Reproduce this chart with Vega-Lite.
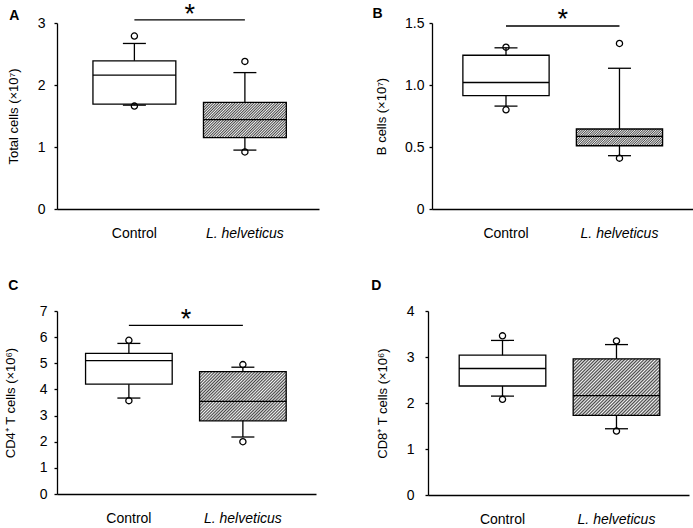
{
  "$schema": "https://vega.github.io/schema/vega-lite/v6.json",
  "background": "white",
  "padding": {"left": 4, "top": 0, "right": 2, "bottom": 0},
  "config": {
    "font": "Liberation Sans",
    "view": {"stroke": null},
    "tick": {"opacity": 1},
    "axis": {"domainColor": "#000", "domainWidth": 1.3, "tickColor": "#000", "tickWidth": 1.3, "labelColor": "#000", "titleColor": "#000", "labelFont": "Liberation Sans", "titleFont": "Liberation Sans", "labelFontSize": 14, "titleFontSize": 13, "titleFontWeight": "normal", "grid": false},
    "axisX": {"ticks": false, "labelPadding": 17, "labelAngle": 0, "labelFontStyle": {"condition": {"test": "datum.value === 'L. helveticus'", "value": "italic"}, "value": "normal"}},
    "axisY": {"tickSize": 3, "labelPadding": 7, "titlePadding": 14},
    "title": {"font": "Liberation Sans", "fontSize": 14, "fontWeight": "bold", "anchor": "start", "color": "#000"}
  },
  "datasets": {
    "A": [
      {"group": "Control", "q1": 1.69, "q3": 2.39, "median": 2.16, "lower": 1.675, "upper": 2.67},
      {"group": "L. helveticus", "q1": 1.15, "q3": 1.72, "median": 1.44, "lower": 0.95, "upper": 2.2}
    ],
    "A_out": [
      {"group": "Control", "value": 2.79}, {"group": "Control", "value": 1.66},
      {"group": "L. helveticus", "value": 2.38}, {"group": "L. helveticus", "value": 0.92}
    ],
    "A_sig": [{"from": "Control", "to": "L. helveticus", "y": 3.05, "ty": 3.133, "label": "*"}],
    "B": [
      {"group": "Control", "q1": 0.915, "q3": 1.24, "median": 1.02, "lower": 0.83, "upper": 1.3},
      {"group": "L. helveticus", "q1": 0.51, "q3": 0.645, "median": 0.585, "lower": 0.43, "upper": 1.135}
    ],
    "B_out": [
      {"group": "Control", "value": 1.305}, {"group": "Control", "value": 0.8},
      {"group": "L. helveticus", "value": 1.335}, {"group": "L. helveticus", "value": 0.41}
    ],
    "B_sig": [{"from": "Control", "to": "L. helveticus", "y": 1.476, "ty": 1.526, "label": "*"}],
    "C": [
      {"group": "Control", "q1": 4.2, "q3": 5.38, "median": 5.1, "lower": 3.67, "upper": 5.76},
      {"group": "L. helveticus", "q1": 2.8, "q3": 4.68, "median": 3.54, "lower": 2.18, "upper": 4.85}
    ],
    "C_out": [
      {"group": "Control", "value": 5.88}, {"group": "Control", "value": 3.57},
      {"group": "L. helveticus", "value": 4.95}, {"group": "L. helveticus", "value": 2.0}
    ],
    "C_sig": [{"from": "Control", "to": "L. helveticus", "y": 6.45, "ty": 6.665, "label": "*"}],
    "D": [
      {"group": "Control", "q1": 2.37, "q3": 3.04, "median": 2.75, "lower": 2.15, "upper": 3.36},
      {"group": "L. helveticus", "q1": 1.73, "q3": 2.96, "median": 2.16, "lower": 1.44, "upper": 3.27}
    ],
    "D_out": [
      {"group": "Control", "value": 3.46}, {"group": "Control", "value": 2.08},
      {"group": "L. helveticus", "value": 3.35}, {"group": "L. helveticus", "value": 1.39}
    ]
  },
  "spacing": 39,
  "vconcat": [
    {
      "spacing": 53,
      "hconcat": [
        {
          "width": 262, "height": 186,
          "title": {"text": "A", "dx": 2, "offset": -22},
          "layer": [
            {"data": {"name": "A"}, "mark": {"type": "rule", "color": "#000", "strokeWidth": 1.3},
             "encoding": {
               "x": {"field": "group", "type": "nominal", "title": null, "scale": {"type": "band", "domain": ["Control", "L. helveticus"], "paddingInner": 0, "paddingOuter": 0.1855, "align": 0.54}},
               "y": {"field": "lower", "type": "quantitative", "scale": {"domain": [0, 3], "nice": false}, "axis": {"title": "Total cells (×10⁷)", "values": [0, 1, 2, 3], "tickCount": 4, "format": "d", "labelPadding": 9, "titlePadding": 17}},
               "y2": {"field": "upper"}}},
            {"data": {"name": "A"}, "transform": [{"filter": "datum.group === 'Control'"}], "mark": {"type": "bar", "width": {"band": 0.75}, "fill": "#fff", "stroke": "#000", "strokeWidth": 1.3},
             "encoding": {"x": {"field": "group", "type": "nominal"}, "y": {"field": "q1", "type": "quantitative"}, "y2": {"field": "q3"}}},
            {"data": {"name": "A"}, "transform": [{"filter": "datum.group === 'L. helveticus'"}], "mark": {"type": "bar", "width": {"band": 0.75}, "stroke": "#000", "strokeWidth": 1.3,
              "fill": {"gradient": "linear", "x1": 0, "y1": 0, "x2": 1.207, "y2": 0.5133, "stops": [
{"offset":0,"color":"#444"},{"offset":0.0114,"color":"#f4f4f4"},{"offset":0.0227,"color":"#444"},{"offset":0.0341,"color":"#f4f4f4"},{"offset":0.0455,"color":"#444"},{"offset":0.0568,"color":"#f4f4f4"},{"offset":0.0682,"color":"#444"},{"offset":0.0795,"color":"#f4f4f4"},{"offset":0.0909,"color":"#444"},{"offset":0.1023,"color":"#f4f4f4"},{"offset":0.1136,"color":"#444"},{"offset":0.125,"color":"#f4f4f4"},{"offset":0.1364,"color":"#444"},{"offset":0.1477,"color":"#f4f4f4"},{"offset":0.1591,"color":"#444"},{"offset":0.1705,"color":"#f4f4f4"},{"offset":0.1818,"color":"#444"},{"offset":0.1932,"color":"#f4f4f4"},{"offset":0.2045,"color":"#444"},{"offset":0.2159,"color":"#f4f4f4"},{"offset":0.2273,"color":"#444"},{"offset":0.2386,"color":"#f4f4f4"},{"offset":0.25,"color":"#444"},{"offset":0.2614,"color":"#f4f4f4"},{"offset":0.2727,"color":"#444"},{"offset":0.2841,"color":"#f4f4f4"},{"offset":0.2955,"color":"#444"},{"offset":0.3068,"color":"#f4f4f4"},{"offset":0.3182,"color":"#444"},{"offset":0.3295,"color":"#f4f4f4"},{"offset":0.3409,"color":"#444"},{"offset":0.3523,"color":"#f4f4f4"},{"offset":0.3636,"color":"#444"},{"offset":0.375,"color":"#f4f4f4"},{"offset":0.3864,"color":"#444"},{"offset":0.3977,"color":"#f4f4f4"},{"offset":0.4091,"color":"#444"},{"offset":0.4205,"color":"#f4f4f4"},{"offset":0.4318,"color":"#444"},{"offset":0.4432,"color":"#f4f4f4"},{"offset":0.4545,"color":"#444"},{"offset":0.4659,"color":"#f4f4f4"},{"offset":0.4773,"color":"#444"},{"offset":0.4886,"color":"#f4f4f4"},{"offset":0.5,"color":"#444"},{"offset":0.5114,"color":"#f4f4f4"},{"offset":0.5227,"color":"#444"},{"offset":0.5341,"color":"#f4f4f4"},{"offset":0.5455,"color":"#444"},{"offset":0.5568,"color":"#f4f4f4"},{"offset":0.5682,"color":"#444"},{"offset":0.5795,"color":"#f4f4f4"},{"offset":0.5909,"color":"#444"},{"offset":0.6023,"color":"#f4f4f4"},{"offset":0.6136,"color":"#444"},{"offset":0.625,"color":"#f4f4f4"},{"offset":0.6364,"color":"#444"},{"offset":0.6477,"color":"#f4f4f4"},{"offset":0.6591,"color":"#444"},{"offset":0.6705,"color":"#f4f4f4"},{"offset":0.6818,"color":"#444"},{"offset":0.6932,"color":"#f4f4f4"},{"offset":0.7045,"color":"#444"},{"offset":0.7159,"color":"#f4f4f4"},{"offset":0.7273,"color":"#444"},{"offset":0.7386,"color":"#f4f4f4"},{"offset":0.75,"color":"#444"},{"offset":0.7614,"color":"#f4f4f4"},{"offset":0.7727,"color":"#444"},{"offset":0.7841,"color":"#f4f4f4"},{"offset":0.7955,"color":"#444"},{"offset":0.8068,"color":"#f4f4f4"},{"offset":0.8182,"color":"#444"},{"offset":0.8295,"color":"#f4f4f4"},{"offset":0.8409,"color":"#444"},{"offset":0.8523,"color":"#f4f4f4"},{"offset":0.8636,"color":"#444"},{"offset":0.875,"color":"#f4f4f4"},{"offset":0.8864,"color":"#444"},{"offset":0.8977,"color":"#f4f4f4"},{"offset":0.9091,"color":"#444"},{"offset":0.9205,"color":"#f4f4f4"},{"offset":0.9318,"color":"#444"},{"offset":0.9432,"color":"#f4f4f4"},{"offset":0.9545,"color":"#444"},{"offset":0.9659,"color":"#f4f4f4"},{"offset":0.9773,"color":"#444"},{"offset":0.9886,"color":"#f4f4f4"},{"offset":1,"color":"#444"}]}},
             "encoding": {"x": {"field": "group", "type": "nominal"}, "y": {"field": "q1", "type": "quantitative"}, "y2": {"field": "q3"}}},
            {"data": {"name": "A"}, "mark": {"type": "tick", "color": "#000", "size": 83, "thickness": 1.3, "opacity": 1},
             "encoding": {"x": {"field": "group", "type": "nominal"}, "y": {"field": "median", "type": "quantitative"}}},
            {"data": {"name": "A"}, "mark": {"type": "tick", "color": "#000", "size": 23, "thickness": 1.3, "opacity": 1},
             "encoding": {"x": {"field": "group", "type": "nominal"}, "y": {"field": "upper", "type": "quantitative"}}},
            {"data": {"name": "A"}, "mark": {"type": "tick", "color": "#000", "size": 23, "thickness": 1.3, "opacity": 1},
             "encoding": {"x": {"field": "group", "type": "nominal"}, "y": {"field": "lower", "type": "quantitative"}}},
            {"data": {"name": "A_out"}, "mark": {"type": "point", "shape": "circle", "filled": false, "color": "#000", "strokeWidth": 1.3, "size": 38, "opacity": 1},
             "encoding": {"x": {"field": "group", "type": "nominal"}, "y": {"field": "value", "type": "quantitative"}}},
            {"data": {"name": "A_sig"}, "mark": {"type": "rule", "color": "#000", "strokeWidth": 1.3},
             "encoding": {"x": {"field": "from", "type": "nominal"}, "x2": {"field": "to"}, "y": {"field": "y", "type": "quantitative"}}},
            {"data": {"name": "A_sig"}, "mark": {"type": "text", "fontSize": 27, "color": "#000", "baseline": "middle"},
             "encoding": {"x": {"field": "from", "type": "nominal", "bandPosition": 1}, "y": {"field": "ty", "type": "quantitative"}, "text": {"field": "label"}}}
          ]
        },
        {
          "width": 261, "height": 186,
          "title": {"text": "B", "dx": -3, "offset": -15},
          "layer": [
            {"data": {"name": "B"}, "mark": {"type": "rule", "color": "#000", "strokeWidth": 1.3},
             "encoding": {
               "x": {"field": "group", "type": "nominal", "title": null, "scale": {"type": "band", "domain": ["Control", "L. helveticus"], "paddingInner": 0, "paddingOuter": 0.15, "align": 0.507}},
               "y": {"field": "lower", "type": "quantitative", "scale": {"domain": [0, 1.5], "nice": false}, "axis": {"title": "B cells (×10⁷)", "values": [0, 0.5, 1, 1.5], "tickCount": 4, "labelExpr": "datum.value === 0 ? '0' : format(datum.value, '.1f')", "labelPadding": 5, "titlePadding": 16}},
               "y2": {"field": "upper"}}},
            {"data": {"name": "B"}, "transform": [{"filter": "datum.group === 'Control'"}], "mark": {"type": "bar", "width": {"band": 0.76}, "fill": "#fff", "stroke": "#000", "strokeWidth": 1.3},
             "encoding": {"x": {"field": "group", "type": "nominal"}, "y": {"field": "q1", "type": "quantitative"}, "y2": {"field": "q3"}}},
            {"data": {"name": "B"}, "transform": [{"filter": "datum.group === 'L. helveticus'"}], "mark": {"type": "bar", "width": {"band": 0.76}, "stroke": "#000", "strokeWidth": 1.3,
              "fill": {"gradient": "linear", "x1": 0, "y1": 0, "x2": 1.1504, "y2": 0.2226, "stops": [
{"offset":0,"color":"#444"},{"offset":0.0114,"color":"#f4f4f4"},{"offset":0.0227,"color":"#444"},{"offset":0.0341,"color":"#f4f4f4"},{"offset":0.0455,"color":"#444"},{"offset":0.0568,"color":"#f4f4f4"},{"offset":0.0682,"color":"#444"},{"offset":0.0795,"color":"#f4f4f4"},{"offset":0.0909,"color":"#444"},{"offset":0.1023,"color":"#f4f4f4"},{"offset":0.1136,"color":"#444"},{"offset":0.125,"color":"#f4f4f4"},{"offset":0.1364,"color":"#444"},{"offset":0.1477,"color":"#f4f4f4"},{"offset":0.1591,"color":"#444"},{"offset":0.1705,"color":"#f4f4f4"},{"offset":0.1818,"color":"#444"},{"offset":0.1932,"color":"#f4f4f4"},{"offset":0.2045,"color":"#444"},{"offset":0.2159,"color":"#f4f4f4"},{"offset":0.2273,"color":"#444"},{"offset":0.2386,"color":"#f4f4f4"},{"offset":0.25,"color":"#444"},{"offset":0.2614,"color":"#f4f4f4"},{"offset":0.2727,"color":"#444"},{"offset":0.2841,"color":"#f4f4f4"},{"offset":0.2955,"color":"#444"},{"offset":0.3068,"color":"#f4f4f4"},{"offset":0.3182,"color":"#444"},{"offset":0.3295,"color":"#f4f4f4"},{"offset":0.3409,"color":"#444"},{"offset":0.3523,"color":"#f4f4f4"},{"offset":0.3636,"color":"#444"},{"offset":0.375,"color":"#f4f4f4"},{"offset":0.3864,"color":"#444"},{"offset":0.3977,"color":"#f4f4f4"},{"offset":0.4091,"color":"#444"},{"offset":0.4205,"color":"#f4f4f4"},{"offset":0.4318,"color":"#444"},{"offset":0.4432,"color":"#f4f4f4"},{"offset":0.4545,"color":"#444"},{"offset":0.4659,"color":"#f4f4f4"},{"offset":0.4773,"color":"#444"},{"offset":0.4886,"color":"#f4f4f4"},{"offset":0.5,"color":"#444"},{"offset":0.5114,"color":"#f4f4f4"},{"offset":0.5227,"color":"#444"},{"offset":0.5341,"color":"#f4f4f4"},{"offset":0.5455,"color":"#444"},{"offset":0.5568,"color":"#f4f4f4"},{"offset":0.5682,"color":"#444"},{"offset":0.5795,"color":"#f4f4f4"},{"offset":0.5909,"color":"#444"},{"offset":0.6023,"color":"#f4f4f4"},{"offset":0.6136,"color":"#444"},{"offset":0.625,"color":"#f4f4f4"},{"offset":0.6364,"color":"#444"},{"offset":0.6477,"color":"#f4f4f4"},{"offset":0.6591,"color":"#444"},{"offset":0.6705,"color":"#f4f4f4"},{"offset":0.6818,"color":"#444"},{"offset":0.6932,"color":"#f4f4f4"},{"offset":0.7045,"color":"#444"},{"offset":0.7159,"color":"#f4f4f4"},{"offset":0.7273,"color":"#444"},{"offset":0.7386,"color":"#f4f4f4"},{"offset":0.75,"color":"#444"},{"offset":0.7614,"color":"#f4f4f4"},{"offset":0.7727,"color":"#444"},{"offset":0.7841,"color":"#f4f4f4"},{"offset":0.7955,"color":"#444"},{"offset":0.8068,"color":"#f4f4f4"},{"offset":0.8182,"color":"#444"},{"offset":0.8295,"color":"#f4f4f4"},{"offset":0.8409,"color":"#444"},{"offset":0.8523,"color":"#f4f4f4"},{"offset":0.8636,"color":"#444"},{"offset":0.875,"color":"#f4f4f4"},{"offset":0.8864,"color":"#444"},{"offset":0.8977,"color":"#f4f4f4"},{"offset":0.9091,"color":"#444"},{"offset":0.9205,"color":"#f4f4f4"},{"offset":0.9318,"color":"#444"},{"offset":0.9432,"color":"#f4f4f4"},{"offset":0.9545,"color":"#444"},{"offset":0.9659,"color":"#f4f4f4"},{"offset":0.9773,"color":"#444"},{"offset":0.9886,"color":"#f4f4f4"},{"offset":1,"color":"#444"}]}},
             "encoding": {"x": {"field": "group", "type": "nominal"}, "y": {"field": "q1", "type": "quantitative"}, "y2": {"field": "q3"}}},
            {"data": {"name": "B"}, "mark": {"type": "tick", "color": "#000", "size": 86, "thickness": 1.3, "opacity": 1},
             "encoding": {"x": {"field": "group", "type": "nominal"}, "y": {"field": "median", "type": "quantitative"}}},
            {"data": {"name": "B"}, "mark": {"type": "tick", "color": "#000", "size": 23, "thickness": 1.3, "opacity": 1},
             "encoding": {"x": {"field": "group", "type": "nominal"}, "y": {"field": "upper", "type": "quantitative"}}},
            {"data": {"name": "B"}, "mark": {"type": "tick", "color": "#000", "size": 23, "thickness": 1.3, "opacity": 1},
             "encoding": {"x": {"field": "group", "type": "nominal"}, "y": {"field": "lower", "type": "quantitative"}}},
            {"data": {"name": "B_out"}, "mark": {"type": "point", "shape": "circle", "filled": false, "color": "#000", "strokeWidth": 1.3, "size": 38, "opacity": 1},
             "encoding": {"x": {"field": "group", "type": "nominal"}, "y": {"field": "value", "type": "quantitative"}}},
            {"data": {"name": "B_sig"}, "mark": {"type": "rule", "color": "#000", "strokeWidth": 1.3},
             "encoding": {"x": {"field": "from", "type": "nominal"}, "x2": {"field": "to"}, "y": {"field": "y", "type": "quantitative"}}},
            {"data": {"name": "B_sig"}, "mark": {"type": "text", "fontSize": 27, "color": "#000", "baseline": "middle"},
             "encoding": {"x": {"field": "from", "type": "nominal", "bandPosition": 1}, "y": {"field": "ty", "type": "quantitative"}, "text": {"field": "label"}}}
          ]
        }
      ]
    },
    {
      "spacing": 55,
      "hconcat": [
        {
          "width": 259, "height": 183,
          "title": {"text": "C", "dx": 4, "offset": 11},
          "layer": [
            {"data": {"name": "C"}, "mark": {"type": "rule", "color": "#000", "strokeWidth": 1.3},
             "encoding": {
               "x": {"field": "group", "type": "nominal", "title": null, "scale": {"type": "band", "domain": ["Control", "L. helveticus"], "paddingInner": 0, "paddingOuter": 0.136, "align": 0.48}},
               "y": {"field": "lower", "type": "quantitative", "scale": {"domain": [0, 7], "nice": false}, "axis": {"title": "CD4⁺ T cells (×10⁶)", "values": [0, 1, 2, 3, 4, 5, 6, 7], "tickCount": 8, "format": "d", "labelPadding": 7, "titlePadding": 22}},
               "y2": {"field": "upper"}}},
            {"data": {"name": "C"}, "transform": [{"filter": "datum.group === 'Control'"}], "mark": {"type": "bar", "width": {"band": 0.76}, "fill": "#fff", "stroke": "#000", "strokeWidth": 1.3},
             "encoding": {"x": {"field": "group", "type": "nominal"}, "y": {"field": "q1", "type": "quantitative"}, "y2": {"field": "q3"}}},
            {"data": {"name": "C"}, "transform": [{"filter": "datum.group === 'L. helveticus'"}], "mark": {"type": "bar", "width": {"band": 0.76}, "stroke": "#000", "strokeWidth": 1.3,
              "fill": {"gradient": "linear", "x1": 0, "y1": 0, "x2": 1.1857, "y2": 0.6723, "stops": [
{"offset":0,"color":"#444"},{"offset":0.0114,"color":"#f4f4f4"},{"offset":0.0227,"color":"#444"},{"offset":0.0341,"color":"#f4f4f4"},{"offset":0.0455,"color":"#444"},{"offset":0.0568,"color":"#f4f4f4"},{"offset":0.0682,"color":"#444"},{"offset":0.0795,"color":"#f4f4f4"},{"offset":0.0909,"color":"#444"},{"offset":0.1023,"color":"#f4f4f4"},{"offset":0.1136,"color":"#444"},{"offset":0.125,"color":"#f4f4f4"},{"offset":0.1364,"color":"#444"},{"offset":0.1477,"color":"#f4f4f4"},{"offset":0.1591,"color":"#444"},{"offset":0.1705,"color":"#f4f4f4"},{"offset":0.1818,"color":"#444"},{"offset":0.1932,"color":"#f4f4f4"},{"offset":0.2045,"color":"#444"},{"offset":0.2159,"color":"#f4f4f4"},{"offset":0.2273,"color":"#444"},{"offset":0.2386,"color":"#f4f4f4"},{"offset":0.25,"color":"#444"},{"offset":0.2614,"color":"#f4f4f4"},{"offset":0.2727,"color":"#444"},{"offset":0.2841,"color":"#f4f4f4"},{"offset":0.2955,"color":"#444"},{"offset":0.3068,"color":"#f4f4f4"},{"offset":0.3182,"color":"#444"},{"offset":0.3295,"color":"#f4f4f4"},{"offset":0.3409,"color":"#444"},{"offset":0.3523,"color":"#f4f4f4"},{"offset":0.3636,"color":"#444"},{"offset":0.375,"color":"#f4f4f4"},{"offset":0.3864,"color":"#444"},{"offset":0.3977,"color":"#f4f4f4"},{"offset":0.4091,"color":"#444"},{"offset":0.4205,"color":"#f4f4f4"},{"offset":0.4318,"color":"#444"},{"offset":0.4432,"color":"#f4f4f4"},{"offset":0.4545,"color":"#444"},{"offset":0.4659,"color":"#f4f4f4"},{"offset":0.4773,"color":"#444"},{"offset":0.4886,"color":"#f4f4f4"},{"offset":0.5,"color":"#444"},{"offset":0.5114,"color":"#f4f4f4"},{"offset":0.5227,"color":"#444"},{"offset":0.5341,"color":"#f4f4f4"},{"offset":0.5455,"color":"#444"},{"offset":0.5568,"color":"#f4f4f4"},{"offset":0.5682,"color":"#444"},{"offset":0.5795,"color":"#f4f4f4"},{"offset":0.5909,"color":"#444"},{"offset":0.6023,"color":"#f4f4f4"},{"offset":0.6136,"color":"#444"},{"offset":0.625,"color":"#f4f4f4"},{"offset":0.6364,"color":"#444"},{"offset":0.6477,"color":"#f4f4f4"},{"offset":0.6591,"color":"#444"},{"offset":0.6705,"color":"#f4f4f4"},{"offset":0.6818,"color":"#444"},{"offset":0.6932,"color":"#f4f4f4"},{"offset":0.7045,"color":"#444"},{"offset":0.7159,"color":"#f4f4f4"},{"offset":0.7273,"color":"#444"},{"offset":0.7386,"color":"#f4f4f4"},{"offset":0.75,"color":"#444"},{"offset":0.7614,"color":"#f4f4f4"},{"offset":0.7727,"color":"#444"},{"offset":0.7841,"color":"#f4f4f4"},{"offset":0.7955,"color":"#444"},{"offset":0.8068,"color":"#f4f4f4"},{"offset":0.8182,"color":"#444"},{"offset":0.8295,"color":"#f4f4f4"},{"offset":0.8409,"color":"#444"},{"offset":0.8523,"color":"#f4f4f4"},{"offset":0.8636,"color":"#444"},{"offset":0.875,"color":"#f4f4f4"},{"offset":0.8864,"color":"#444"},{"offset":0.8977,"color":"#f4f4f4"},{"offset":0.9091,"color":"#444"},{"offset":0.9205,"color":"#f4f4f4"},{"offset":0.9318,"color":"#444"},{"offset":0.9432,"color":"#f4f4f4"},{"offset":0.9545,"color":"#444"},{"offset":0.9659,"color":"#f4f4f4"},{"offset":0.9773,"color":"#444"},{"offset":0.9886,"color":"#f4f4f4"},{"offset":1,"color":"#444"}]}},
             "encoding": {"x": {"field": "group", "type": "nominal"}, "y": {"field": "q1", "type": "quantitative"}, "y2": {"field": "q3"}}},
            {"data": {"name": "C"}, "mark": {"type": "tick", "color": "#000", "size": 87, "thickness": 1.3, "opacity": 1},
             "encoding": {"x": {"field": "group", "type": "nominal"}, "y": {"field": "median", "type": "quantitative"}}},
            {"data": {"name": "C"}, "mark": {"type": "tick", "color": "#000", "size": 23, "thickness": 1.3, "opacity": 1},
             "encoding": {"x": {"field": "group", "type": "nominal"}, "y": {"field": "upper", "type": "quantitative"}}},
            {"data": {"name": "C"}, "mark": {"type": "tick", "color": "#000", "size": 23, "thickness": 1.3, "opacity": 1},
             "encoding": {"x": {"field": "group", "type": "nominal"}, "y": {"field": "lower", "type": "quantitative"}}},
            {"data": {"name": "C_out"}, "mark": {"type": "point", "shape": "circle", "filled": false, "color": "#000", "strokeWidth": 1.3, "size": 38, "opacity": 1},
             "encoding": {"x": {"field": "group", "type": "nominal"}, "y": {"field": "value", "type": "quantitative"}}},
            {"data": {"name": "C_sig"}, "mark": {"type": "rule", "color": "#000", "strokeWidth": 1.3},
             "encoding": {"x": {"field": "from", "type": "nominal"}, "x2": {"field": "to"}, "y": {"field": "y", "type": "quantitative"}}},
            {"data": {"name": "C_sig"}, "mark": {"type": "text", "fontSize": 27, "color": "#000", "baseline": "middle"},
             "encoding": {"x": {"field": "from", "type": "nominal", "bandPosition": 1}, "y": {"field": "ty", "type": "quantitative"}, "text": {"field": "label"}}}
          ]
        },
        {
          "width": 261, "height": 184,
          "title": {"text": "D", "dx": -5, "offset": 11},
          "layer": [
            {"data": {"name": "D"}, "mark": {"type": "rule", "color": "#000", "strokeWidth": 1.3},
             "encoding": {
               "x": {"field": "group", "type": "nominal", "title": null, "scale": {"type": "band", "domain": ["Control", "L. helveticus"], "paddingInner": 0, "paddingOuter": 0.145, "align": 0.53}},
               "y": {"field": "lower", "type": "quantitative", "scale": {"domain": [0, 4], "nice": false}, "axis": {"title": "CD8⁺ T cells (×10⁶)", "values": [0, 1, 2, 3, 4], "tickCount": 5, "format": "d", "labelPadding": 11, "titlePadding": 17}},
               "y2": {"field": "upper"}}},
            {"data": {"name": "D"}, "transform": [{"filter": "datum.group === 'Control'"}], "mark": {"type": "bar", "width": {"band": 0.76}, "fill": "#fff", "stroke": "#000", "strokeWidth": 1.3},
             "encoding": {"x": {"field": "group", "type": "nominal"}, "y": {"field": "q1", "type": "quantitative"}, "y2": {"field": "q3"}}},
            {"data": {"name": "D"}, "transform": [{"filter": "datum.group === 'L. helveticus'"}], "mark": {"type": "bar", "width": {"band": 0.76}, "stroke": "#000", "strokeWidth": 1.3,
              "fill": {"gradient": "linear", "x1": 0, "y1": 0, "x2": 1.1586, "y2": 0.7573, "stops": [
{"offset":0,"color":"#444"},{"offset":0.0114,"color":"#f4f4f4"},{"offset":0.0227,"color":"#444"},{"offset":0.0341,"color":"#f4f4f4"},{"offset":0.0455,"color":"#444"},{"offset":0.0568,"color":"#f4f4f4"},{"offset":0.0682,"color":"#444"},{"offset":0.0795,"color":"#f4f4f4"},{"offset":0.0909,"color":"#444"},{"offset":0.1023,"color":"#f4f4f4"},{"offset":0.1136,"color":"#444"},{"offset":0.125,"color":"#f4f4f4"},{"offset":0.1364,"color":"#444"},{"offset":0.1477,"color":"#f4f4f4"},{"offset":0.1591,"color":"#444"},{"offset":0.1705,"color":"#f4f4f4"},{"offset":0.1818,"color":"#444"},{"offset":0.1932,"color":"#f4f4f4"},{"offset":0.2045,"color":"#444"},{"offset":0.2159,"color":"#f4f4f4"},{"offset":0.2273,"color":"#444"},{"offset":0.2386,"color":"#f4f4f4"},{"offset":0.25,"color":"#444"},{"offset":0.2614,"color":"#f4f4f4"},{"offset":0.2727,"color":"#444"},{"offset":0.2841,"color":"#f4f4f4"},{"offset":0.2955,"color":"#444"},{"offset":0.3068,"color":"#f4f4f4"},{"offset":0.3182,"color":"#444"},{"offset":0.3295,"color":"#f4f4f4"},{"offset":0.3409,"color":"#444"},{"offset":0.3523,"color":"#f4f4f4"},{"offset":0.3636,"color":"#444"},{"offset":0.375,"color":"#f4f4f4"},{"offset":0.3864,"color":"#444"},{"offset":0.3977,"color":"#f4f4f4"},{"offset":0.4091,"color":"#444"},{"offset":0.4205,"color":"#f4f4f4"},{"offset":0.4318,"color":"#444"},{"offset":0.4432,"color":"#f4f4f4"},{"offset":0.4545,"color":"#444"},{"offset":0.4659,"color":"#f4f4f4"},{"offset":0.4773,"color":"#444"},{"offset":0.4886,"color":"#f4f4f4"},{"offset":0.5,"color":"#444"},{"offset":0.5114,"color":"#f4f4f4"},{"offset":0.5227,"color":"#444"},{"offset":0.5341,"color":"#f4f4f4"},{"offset":0.5455,"color":"#444"},{"offset":0.5568,"color":"#f4f4f4"},{"offset":0.5682,"color":"#444"},{"offset":0.5795,"color":"#f4f4f4"},{"offset":0.5909,"color":"#444"},{"offset":0.6023,"color":"#f4f4f4"},{"offset":0.6136,"color":"#444"},{"offset":0.625,"color":"#f4f4f4"},{"offset":0.6364,"color":"#444"},{"offset":0.6477,"color":"#f4f4f4"},{"offset":0.6591,"color":"#444"},{"offset":0.6705,"color":"#f4f4f4"},{"offset":0.6818,"color":"#444"},{"offset":0.6932,"color":"#f4f4f4"},{"offset":0.7045,"color":"#444"},{"offset":0.7159,"color":"#f4f4f4"},{"offset":0.7273,"color":"#444"},{"offset":0.7386,"color":"#f4f4f4"},{"offset":0.75,"color":"#444"},{"offset":0.7614,"color":"#f4f4f4"},{"offset":0.7727,"color":"#444"},{"offset":0.7841,"color":"#f4f4f4"},{"offset":0.7955,"color":"#444"},{"offset":0.8068,"color":"#f4f4f4"},{"offset":0.8182,"color":"#444"},{"offset":0.8295,"color":"#f4f4f4"},{"offset":0.8409,"color":"#444"},{"offset":0.8523,"color":"#f4f4f4"},{"offset":0.8636,"color":"#444"},{"offset":0.875,"color":"#f4f4f4"},{"offset":0.8864,"color":"#444"},{"offset":0.8977,"color":"#f4f4f4"},{"offset":0.9091,"color":"#444"},{"offset":0.9205,"color":"#f4f4f4"},{"offset":0.9318,"color":"#444"},{"offset":0.9432,"color":"#f4f4f4"},{"offset":0.9545,"color":"#444"},{"offset":0.9659,"color":"#f4f4f4"},{"offset":0.9773,"color":"#444"},{"offset":0.9886,"color":"#f4f4f4"},{"offset":1,"color":"#444"}]}},
             "encoding": {"x": {"field": "group", "type": "nominal"}, "y": {"field": "q1", "type": "quantitative"}, "y2": {"field": "q3"}}},
            {"data": {"name": "D"}, "mark": {"type": "tick", "color": "#000", "size": 87, "thickness": 1.3, "opacity": 1},
             "encoding": {"x": {"field": "group", "type": "nominal"}, "y": {"field": "median", "type": "quantitative"}}},
            {"data": {"name": "D"}, "mark": {"type": "tick", "color": "#000", "size": 23, "thickness": 1.3, "opacity": 1},
             "encoding": {"x": {"field": "group", "type": "nominal"}, "y": {"field": "upper", "type": "quantitative"}}},
            {"data": {"name": "D"}, "mark": {"type": "tick", "color": "#000", "size": 23, "thickness": 1.3, "opacity": 1},
             "encoding": {"x": {"field": "group", "type": "nominal"}, "y": {"field": "lower", "type": "quantitative"}}},
            {"data": {"name": "D_out"}, "mark": {"type": "point", "shape": "circle", "filled": false, "color": "#000", "strokeWidth": 1.3, "size": 38, "opacity": 1},
             "encoding": {"x": {"field": "group", "type": "nominal"}, "y": {"field": "value", "type": "quantitative"}}}
          ]
        }
      ]
    }
  ]
}
